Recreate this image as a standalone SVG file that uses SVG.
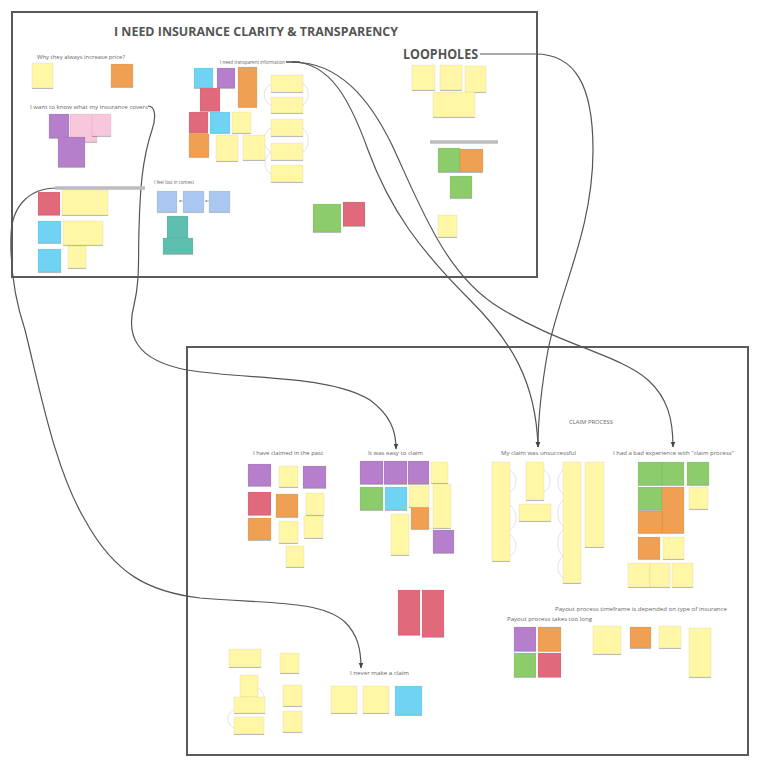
<svg xmlns="http://www.w3.org/2000/svg" width="765" height="775" viewBox="0 0 765 775">
<defs>
<style>
.frame{fill:none;stroke:#5a5a5a;stroke-width:2}
.title{font-family:"Open Sans","Liberation Sans",sans-serif;font-weight:bold;fill:#555}
.lbl{font-family:"Open Sans","Liberation Sans",sans-serif;font-size:5px;fill:#666}
.bar{stroke:#bdbdbd;stroke-width:3.5;stroke-linecap:butt}
.conn{fill:none;stroke:#555;stroke-width:1.2}
.faint{fill:none;stroke:#dcdcdc;stroke-width:0.8}
.n{filter:url(#sh);stroke:#000;stroke-opacity:0.08;stroke-width:0.6}
.y{fill:#fff6a6}.o{fill:#f0a052}.p{fill:#b57fcb}.r{fill:#e06a7b}.c{fill:#6fd3f3}
.g{fill:#8dcc6b}.k{fill:#f7c7dc}.b{fill:#a9c7f1}.t{fill:#5fbfae}
</style>
<filter id="sh" x="-20%" y="-20%" width="140%" height="150%">
<feDropShadow dx="0" dy="1" stdDeviation="0.6" flood-color="#000" flood-opacity="0.25"/>
</filter>
<marker id="ar" viewBox="0 0 10 10" refX="9" refY="5" markerWidth="5" markerHeight="5" orient="auto">
<path d="M0,1 L10,5 L0,9 z" fill="#444"/>
</marker>
<marker id="sa" viewBox="0 0 10 10" refX="9" refY="5" markerWidth="4" markerHeight="4" orient="auto">
<path d="M0,1 L10,5 L0,9 z" fill="#888"/>
</marker>
</defs>
<rect width="765" height="775" fill="#fff"/>

<g id="frame-clarity">
<rect class="frame" x="12" y="12" width="525" height="265"/>
<text class="title" x="114" y="36" font-size="12.5" textLength="284" lengthAdjust="spacingAndGlyphs">I NEED INSURANCE CLARITY &amp; TRANSPARENCY</text>
</g>

<g id="frame-claim">
<rect class="frame" x="187" y="347" width="561" height="408"/>
<text class="lbl" x="569" y="424" textLength="44" lengthAdjust="spacingAndGlyphs">CLAIM PROCESS</text>
</g>

<g id="connectors">
<path class="conn" d="M292,62 C330,62 350,100 368,150 C390,210 420,250 470,300 C510,340 536,380 538,447" marker-end="url(#ar)"/>
<path class="conn" d="M292,62 C340,62 370,100 392,145 C420,205 445,275 500,308 C560,345 620,355 648,380 C668,398 673,420 673,447" marker-end="url(#ar)"/>
<path class="conn" d="M480,54 L535,54 C575,54 593,85 593,150 C593,230 560,290 548,350 C540,395 538,420 538,447" marker-end="url(#ar)"/>
<path class="conn" d="M148,106 C156,106 156,118 152,130 C142,160 140,190 139,230 C138,260 140,280 134,305 C126,335 135,360 187,370 C250,380 330,375 370,400 C390,415 396,430 396,449" marker-end="url(#ar)"/>
<path class="conn" d="M57,188 C30,188 12,205 11,235 C10,270 15,300 25,330 C40,390 55,470 85,520 C115,575 150,592 200,598 C270,604 320,600 345,622 C358,635 361,650 361,668" marker-end="url(#ar)"/>
<line x1="286" y1="62" x2="300" y2="62" stroke="#555" stroke-width="1.6"/>
<path class="faint" d="M271,84 C262,88 262,102 271,105"/>
<path class="faint" d="M271,128 C262,132 262,148 271,152"/>
<path class="faint" d="M303,84 C310,88 310,100 303,105"/>
<path class="faint" d="M303,128 C310,134 310,148 303,152"/>
<path class="faint" d="M271,152 C263,158 263,170 271,174"/>
<path class="faint" d="M510,470 C518,475 518,488 510,492"/>
<path class="faint" d="M510,505 C518,512 518,525 510,530"/>
<path class="faint" d="M510,535 C518,540 518,552 510,556"/>
<path class="faint" d="M544,470 C552,475 552,488 544,492"/>
<path class="faint" d="M563,470 C556,476 556,488 563,494"/>
<path class="faint" d="M563,500 C556,506 556,520 563,526"/>
<path class="faint" d="M563,530 C556,536 556,550 563,556"/>
<path class="faint" d="M563,556 C556,562 556,572 563,578"/>
<path class="faint" d="M258,688 C266,692 266,705 258,709"/>
<path class="faint" d="M234,710 C226,714 226,724 234,728"/>
<line x1="183" y1="201" x2="179" y2="201" stroke="#888" stroke-width="0.6" marker-end="url(#sa)"/>
<line x1="209" y1="201" x2="205" y2="201" stroke="#888" stroke-width="0.6" marker-end="url(#sa)"/>
</g>

<g id="bars">
<line class="bar" x1="55" y1="188" x2="145" y2="188"/>
<line class="bar" x1="430" y1="142" x2="498" y2="142"/>
</g>

<g id="grp-price">
<text class="lbl" x="37" y="59" textLength="88" lengthAdjust="spacingAndGlyphs">Why they always increase price?</text>
<rect class="n y" x="32" y="63" width="21" height="25"/>
<rect class="n o" x="111" y="64" width="22" height="23"/>
</g>

<g id="grp-covers">
<text class="lbl" x="30" y="109" textLength="118" lengthAdjust="spacingAndGlyphs">I want to know what my insurance covers</text>
<rect class="n p" x="49" y="114" width="20" height="24"/>
<rect class="n k" x="70" y="114" width="27" height="28"/>
<rect class="n k" x="92" y="114" width="19" height="22"/>
<rect class="n p" x="58" y="137" width="27" height="30"/>
</g>

<g id="grp-left">
<rect class="n r" x="38" y="192" width="22" height="23"/>
<rect class="n y" x="62" y="190" width="46" height="25"/>
<rect class="n c" x="38" y="221" width="23" height="22"/>
<rect class="n y" x="63" y="221" width="40" height="24"/>
<rect class="n c" x="38" y="249" width="23" height="23"/>
<rect class="n y" x="68" y="246" width="18" height="22"/>
</g>

<g id="grp-lost">
<text class="lbl" x="154" y="184" textLength="40" lengthAdjust="spacingAndGlyphs">I feel lost in context</text>
<rect class="n b" x="157" y="191" width="20" height="21"/>
<rect class="n b" x="183" y="191" width="21" height="21"/>
<rect class="n b" x="209" y="191" width="21" height="21"/>
<rect class="n t" x="167" y="216" width="21" height="22"/>
<rect class="n t" x="163" y="238" width="30" height="16"/>
</g>

<g id="grp-transparent">
<text class="lbl" x="220" y="64" textLength="65" lengthAdjust="spacingAndGlyphs">I need transparent information</text>
<rect class="n c" x="194" y="68" width="19" height="20"/>
<rect class="n p" x="217" y="68" width="18" height="20"/>
<rect class="n o" x="238" y="67" width="19" height="40"/>
<rect class="n r" x="200" y="88" width="20" height="23"/>
<rect class="n r" x="189" y="112" width="19" height="21"/>
<rect class="n c" x="210" y="112" width="20" height="21"/>
<rect class="n y" x="232" y="112" width="19" height="21"/>
<rect class="n o" x="189" y="134" width="20" height="23"/>
<rect class="n y" x="216" y="135" width="22" height="26"/>
<rect class="n y" x="243" y="135" width="22" height="25"/>
<rect class="n y" x="271" y="75" width="32" height="17"/>
<rect class="n y" x="271" y="97" width="32" height="16"/>
<rect class="n y" x="271" y="119" width="32" height="17"/>
<rect class="n y" x="271" y="143" width="32" height="17"/>
<rect class="n y" x="271" y="165" width="32" height="17"/>
</g>

<g id="grp-misc">
<rect class="n g" x="313" y="204" width="28" height="28"/>
<rect class="n r" x="343" y="202" width="22" height="24"/>
</g>

<g id="grp-loopholes">
<text class="title" x="403" y="59" font-size="13.5" textLength="75" lengthAdjust="spacingAndGlyphs">LOOPHOLES</text>
<rect class="n y" x="412" y="65" width="23" height="25"/>
<rect class="n y" x="440" y="65" width="22" height="25"/>
<rect class="n y" x="465" y="66" width="21" height="26"/>
<rect class="n y" x="433" y="92" width="42" height="25"/>
<rect class="n g" x="438" y="148" width="22" height="24"/>
<rect class="n o" x="460" y="149" width="23" height="23"/>
<rect class="n g" x="450" y="176" width="22" height="22"/>
<rect class="n y" x="438" y="215" width="19" height="22"/>
</g>

<g id="grp-claimed-past">
<text class="lbl" x="253" y="455" textLength="70" lengthAdjust="spacingAndGlyphs">I have claimed in the past</text>
<rect class="n p" x="248" y="464" width="23" height="22"/>
<rect class="n y" x="279" y="466" width="19" height="21"/>
<rect class="n p" x="303" y="466" width="23" height="22"/>
<rect class="n r" x="248" y="492" width="23" height="23"/>
<rect class="n o" x="276" y="494" width="22" height="23"/>
<rect class="n y" x="306" y="493" width="18" height="22"/>
<rect class="n o" x="248" y="518" width="23" height="22"/>
<rect class="n y" x="279" y="521" width="19" height="22"/>
<rect class="n y" x="304" y="516" width="19" height="22"/>
<rect class="n y" x="286" y="546" width="18" height="21"/>
</g>

<g id="grp-easy">
<text class="lbl" x="368" y="455" textLength="55" lengthAdjust="spacingAndGlyphs">It was easy to claim</text>
<rect class="n p" x="360" y="461" width="23" height="23"/>
<rect class="n p" x="384" y="461" width="23" height="23"/>
<rect class="n p" x="408" y="461" width="21" height="23"/>
<rect class="n y" x="431" y="462" width="17" height="21"/>
<rect class="n g" x="360" y="487" width="23" height="23"/>
<rect class="n c" x="385" y="487" width="22" height="23"/>
<rect class="n y" x="409" y="486" width="20" height="21"/>
<rect class="n y" x="433" y="484" width="18" height="44"/>
<rect class="n o" x="411" y="508" width="18" height="21"/>
<rect class="n y" x="391" y="514" width="18" height="41"/>
<rect class="n p" x="433" y="530" width="21" height="23"/>
</g>

<g id="grp-red-pair">
<rect class="n r" x="398" y="590" width="22" height="45"/>
<rect class="n r" x="422" y="590" width="22" height="47"/>
</g>

<g id="grp-unsuccessful">
<text class="lbl" x="501" y="455" textLength="75" lengthAdjust="spacingAndGlyphs">My claim was unsuccessful</text>
<rect class="n y" x="492" y="462" width="18" height="99"/>
<rect class="n y" x="526" y="462" width="18" height="38"/>
<rect class="n y" x="519" y="504" width="32" height="17"/>
<rect class="n y" x="563" y="462" width="18" height="121"/>
<rect class="n y" x="585" y="462" width="19" height="85"/>
</g>

<g id="grp-bad-experience">
<text class="lbl" x="613" y="455" textLength="121" lengthAdjust="spacingAndGlyphs">I had a bad experience with "claim process"</text>
<rect class="n g" x="638" y="462" width="24" height="23"/>
<rect class="n g" x="662" y="462" width="22" height="23"/>
<rect class="n g" x="687" y="462" width="22" height="23"/>
<rect class="n y" x="689" y="487" width="19" height="22"/>
<rect class="n g" x="638" y="487" width="24" height="23"/>
<rect class="n o" x="662" y="487" width="22" height="46"/>
<rect class="n o" x="638" y="511" width="24" height="22"/>
<rect class="n o" x="638" y="537" width="22" height="22"/>
<rect class="n y" x="663" y="537" width="21" height="22"/>
<rect class="n y" x="628" y="563" width="22" height="24"/>
<rect class="n y" x="650" y="563" width="20" height="24"/>
<rect class="n y" x="672" y="563" width="21" height="24"/>
</g>

<g id="grp-payout">
<text class="lbl" x="555" y="611" textLength="172" lengthAdjust="spacingAndGlyphs">Payout process timeframe is depended on type of insurance</text>
<text class="lbl" x="507" y="621" textLength="85" lengthAdjust="spacingAndGlyphs">Payout process takes too long</text>
<rect class="n p" x="514" y="627" width="22" height="24"/>
<rect class="n o" x="538" y="627" width="23" height="24"/>
<rect class="n g" x="514" y="653" width="22" height="24"/>
<rect class="n r" x="538" y="653" width="23" height="24"/>
<rect class="n y" x="593" y="626" width="28" height="28"/>
<rect class="n o" x="630" y="627" width="21" height="21"/>
<rect class="n y" x="659" y="626" width="22" height="22"/>
<rect class="n y" x="689" y="628" width="22" height="49"/>
</g>

<g id="grp-other">
<rect class="n y" x="229" y="649" width="32" height="18"/>
<rect class="n y" x="280" y="653" width="19" height="20"/>
<rect class="n y" x="240" y="675" width="18" height="22"/>
<rect class="n y" x="283" y="685" width="19" height="21"/>
<rect class="n y" x="234" y="697" width="31" height="16"/>
<rect class="n y" x="234" y="717" width="30" height="17"/>
<rect class="n y" x="283" y="711" width="19" height="21"/>
</g>

<g id="grp-never">
<text class="lbl" x="350" y="675" textLength="59" lengthAdjust="spacingAndGlyphs">I never make a claim</text>
<rect class="n y" x="331" y="686" width="26" height="27"/>
<rect class="n y" x="363" y="686" width="26" height="27"/>
<rect class="n c" x="395" y="686" width="27" height="29"/>
</g>
</svg>
